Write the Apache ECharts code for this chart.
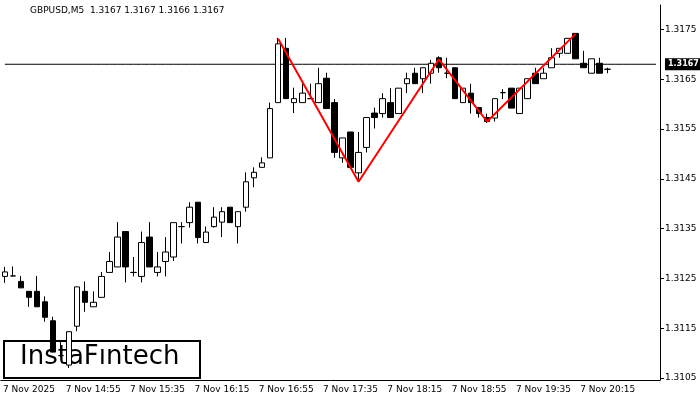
<!DOCTYPE html>
<html>
<head>
<meta charset="utf-8">
<script src="https://cdn.jsdelivr.net/npm/echarts@6/dist/echarts.min.js"></script>
<style>html,body{margin:0;padding:0;background:#fff}#container{width:700px;height:400px}</style>
</head>
<body>
<div id="container"></div>
<script>
var times = [];
for (var m = 14 * 60; m <= 20 * 60 + 45; m += 5) {
    times.push(Math.floor(m / 60) + ':' + ('0' + (m % 60)).slice(-2));
}
// open, close, low, high
var opens  = [1.31254,1.31255,1.31244,1.31224,1.31224,1.31203,1.31165,1.31095,1.31076,1.31154,1.31224,1.31193,1.31212,1.31262,1.31273,1.31344,1.31262,1.31254,1.31333,1.31262,1.31284,
              1.31293,1.31354,1.31362,1.31403,1.31322,1.31354,1.31363,1.31393,1.31354,1.31393,1.31452,1.31473,1.31492,1.31603,1.31712,1.31603,1.31603,1.31611,1.31603,1.31652,
              1.31603,1.31492,1.31544,1.31462,1.31513,1.31582,1.31581,1.31603,1.31581,1.31641,1.31662,1.31651,1.31662,1.31693,1.31662,1.31673,1.31603,1.31622,1.31593,1.31573,
              1.31572,1.31623,1.31632,1.31581,1.31611,1.31662,1.31651,1.31673,1.31702,1.31702,1.31742,1.31682,1.31662,1.31682,1.31670];
var closes = [1.31263,1.31255,1.31231,1.31212,1.31193,1.31172,1.31102,1.31095,1.31143,1.31233,1.31202,1.31202,1.31254,1.31284,1.31333,1.31273,1.31262,1.31322,1.31273,1.31273,1.31303,
              1.31362,1.31354,1.31393,1.31332,1.31343,1.31373,1.31384,1.31362,1.31384,1.31444,1.31463,1.31482,1.31591,1.31721,1.31611,1.31611,1.31622,1.31611,1.31641,1.31591,
              1.31503,1.31532,1.31473,1.31503,1.31573,1.31573,1.31611,1.31573,1.31632,1.31651,1.31641,1.31673,1.31682,1.31673,1.31662,1.31611,1.31632,1.31603,1.31581,1.31565,
              1.31611,1.31623,1.31592,1.31632,1.31651,1.31641,1.31662,1.31693,1.31712,1.31732,1.31691,1.31673,1.31691,1.31662,1.31670];
var lows   = [1.31241,1.31254,1.31231,1.31193,1.31193,1.31163,1.31102,1.31093,1.31070,1.31144,1.31183,1.31193,1.31212,1.31262,1.31273,1.31242,1.31254,1.31242,1.31273,1.31254,1.31254,
              1.31285,1.31320,1.31352,1.31320,1.31322,1.31352,1.31333,1.31362,1.31320,1.31384,1.31433,1.31473,1.31492,1.31603,1.31611,1.31582,1.31603,1.31611,1.31603,1.31591,
              1.31492,1.31482,1.31473,1.31448,1.31503,1.31551,1.31573,1.31573,1.31581,1.31622,1.31641,1.31622,1.31641,1.31663,1.31652,1.31611,1.31603,1.31581,1.31573,1.31562,
              1.31565,1.31610,1.31592,1.31581,1.31611,1.31641,1.31651,1.31673,1.31693,1.31702,1.31691,1.31673,1.31662,1.31662,1.31662];
var highs  = [1.31273,1.31274,1.31255,1.31224,1.31255,1.31214,1.31173,1.31125,1.31143,1.31233,1.31244,1.31224,1.31263,1.31303,1.31363,1.31344,1.31293,1.31344,1.31363,1.31303,1.31333,
              1.31362,1.31363,1.31403,1.31403,1.31354,1.31393,1.31393,1.31393,1.31384,1.31463,1.31473,1.31493,1.31603,1.31733,1.31733,1.31633,1.31641,1.31641,1.31673,1.31663,
              1.31610,1.31532,1.31544,1.31544,1.31573,1.31593,1.31622,1.31632,1.31632,1.31663,1.31673,1.31673,1.31689,1.31696,1.31693,1.31673,1.31632,1.31641,1.31593,1.31581,
              1.31611,1.31630,1.31632,1.31632,1.31651,1.31673,1.31673,1.31712,1.31712,1.31732,1.31742,1.31707,1.31691,1.31693,1.31673];
var patternIdx = [34, 44, 54, 60, 71];
var patternVal = [1.31731, 1.31444, 1.31690, 1.31565, 1.31741];
var lastPrice = 1.3168;
var yTicks = [1.3105, 1.3115, 1.3125, 1.3135, 1.3145, 1.3155, 1.3165, 1.3175];

var candles = opens.map(function (o, i) { return [o, closes[i], lows[i], highs[i]]; });
var pattern = times.map(function () { return null; });
patternIdx.forEach(function (k, j) { pattern[k] = patternVal[j]; });
var priceLine = times.map(function () { return lastPrice; });

var myChart = echarts.init(document.getElementById('container'));
var font = 'DejaVu Sans';
myChart.setOption({
    animation: false,
    backgroundColor: '#fff',
    grid: {left: -1, right: 40, top: 5, bottom: 20},
    xAxis: {
        type: 'category',
        data: times,
        boundaryGap: true,
        axisLine: {lineStyle: {color: '#000', width: 1}},
        axisTick: {alignWithLabel: true, interval: function (i) { return (i - 3) % 8 === 0 && i < 80; }, length: 4, lineStyle: {color: '#000'}},
        axisLabel: {
            interval: function (i) { return (i - 3) % 8 === 0 && i < 80; },
            color: '#000', fontFamily: font, fontSize: 9, margin: 5,
            formatter: function (v, i) { return i === 3 ? '7 Nov 2025' : '7 Nov ' + v; }
        },
        splitLine: {show: false}
    },
    yAxis: {
        type: 'value',
        position: 'right',
        min: 1.31046, max: 1.31799,
        axisLine: {show: true, lineStyle: {color: '#000'}},
        axisTick: {show: true, customValues: yTicks, length: 4, lineStyle: {color: '#000'}},
        axisLabel: {customValues: yTicks, color: '#000', fontFamily: font, fontSize: 9, margin: 5,
            formatter: function (v) { return v.toFixed(4); }},
        splitLine: {show: false}
    },
    series: [
        {
            type: 'line',
            data: priceLine,
            symbol: 'none',
            z: 1,
            lineStyle: {color: '#000', width: 1},
            endLabel: {show: true, distance: 9, formatter: '1.3167', color: '#fff', backgroundColor: '#000',
                fontFamily: font, fontSize: 8, fontWeight: 'bold', padding: [2, 3]}
        },
        {
            type: 'candlestick',
            data: candles,
            barWidth: 6,
            z: 3,
            itemStyle: {color: '#fff', color0: '#000', borderColor: '#000', borderColor0: '#000', borderWidth: 1}
        },
        {
            type: 'line',
            data: pattern,
            connectNulls: true,
            symbol: 'none',
            z: 5,
            lineStyle: {color: '#ff0000', width: 2}
        }
    ],
    graphic: [
        {type: 'text', left: 30, top: 6, style: {text: 'GBPUSD,M5  1.3167 1.3167 1.3166 1.3167', font: '9px "DejaVu Sans"', fill: '#000'}},
        {type: 'rect', shape: {x: 4, y: 341, width: 196, height: 37}, style: {fill: '#fff', stroke: '#000', lineWidth: 2}},
        {type: 'text', left: 20, top: 344, style: {text: 'InstaFıntech', font: '26px "DejaVu Sans"', fill: '#000'}}
    ]
});
</script>
</body>
</html>
